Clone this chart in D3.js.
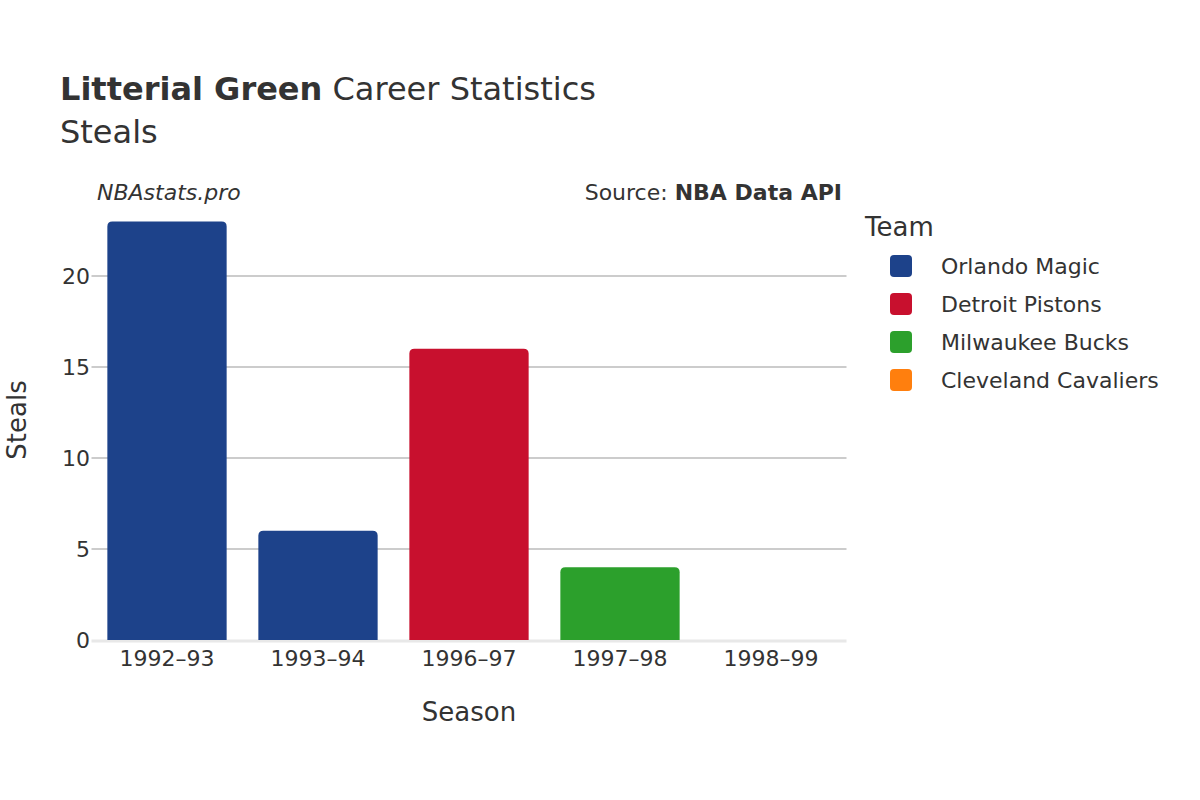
<!DOCTYPE html>
<html><head><meta charset="utf-8">
<script src="https://cdn.jsdelivr.net/npm/d3@7"></script>
<style>body{margin:0;background:#fff}text{font-family:"DejaVu Sans",sans-serif;fill:#333}</style>
</head><body><svg id="c" width="1200" height="800"></svg>
<script>
const seasons=["1992–93","1993–94","1996–97","1997–98","1998–99"];
const steals=[23,6,16,4,0];
const teams=["Orlando Magic","Orlando Magic","Detroit Pistons","Milwaukee Bucks","Cleveland Cavaliers"];
const legendTeams=["Orlando Magic","Detroit Pistons","Milwaukee Bucks","Cleveland Cavaliers"];
const teamColors=["#1d428a","#c8102e","#2ca02c","#ff7f0e"];
const yTicks=[0,5,10,15,20];

const svg=d3.select("#c");
const color=d3.scaleOrdinal(legendTeams,teamColors);
const x=d3.scaleBand(seasons,[91.5,846.5]).paddingInner(0.21).paddingOuter(0.105);
const y=d3.scaleLinear([0,23],[640,221.4]);

svg.append("g").selectAll("line").data(yTicks.filter(d=>d>0)).join("line")
 .attr("x1",91.5).attr("x2",846.5).attr("y1",d=>y(d)).attr("y2",d=>y(d))
 .attr("stroke","#999").attr("stroke-width",1);
svg.append("line").attr("x1",91.5).attr("x2",846.5).attr("y1",641).attr("y2",641)
 .attr("stroke","#e8e8e8").attr("stroke-width",3);

svg.append("g").selectAll("path").data(seasons).join("path")
 .attr("fill",(d,i)=>color(teams[i]))
 .attr("d",(d,i)=>{const x0=x(d),w=x.bandwidth(),y0=y(steals[i]),h=640-y0,r=Math.min(5,h);
   return `M${x0},640V${y0+r}Q${x0},${y0} ${x0+r},${y0}H${x0+w-r}Q${x0+w},${y0} ${x0+w},${y0+r}V640Z`;});

svg.append("g").selectAll("text").data(yTicks).join("text")
 .attr("x",90).attr("y",d=>y(d)+8).attr("text-anchor","end").attr("font-size",22).text(d=>d);
svg.append("g").selectAll("text").data(seasons).join("text")
 .attr("x",d=>x(d)+x.bandwidth()/2).attr("y",666).attr("text-anchor","middle").attr("font-size",22).text(d=>d);

svg.append("text").attr("x",469).attr("y",721).attr("text-anchor","middle").attr("font-size",26).text("Season");
svg.append("text").attr("transform","translate(26,420) rotate(-90)").attr("text-anchor","middle").attr("font-size",26).text("Steals");

const t=svg.append("text").attr("x",60).attr("y",100).attr("font-size",32);
t.append("tspan").attr("font-weight","bold").text("Litterial Green");
t.append("tspan").text(" Career Statistics");
svg.append("text").attr("x",60).attr("y",143).attr("font-size",32).text("Steals");
svg.append("text").attr("x",97).attr("y",200).attr("font-size",22).attr("font-style","italic").text("NBAstats.pro");
const s=svg.append("text").attr("x",842).attr("y",200).attr("font-size",22).attr("text-anchor","end");
s.append("tspan").text("Source: ");
s.append("tspan").attr("font-weight","bold").text("NBA Data API");

svg.append("text").attr("x",865).attr("y",236).attr("font-size",26).text("Team");
const lg=svg.append("g").selectAll("g").data(legendTeams).join("g")
 .attr("transform",(d,i)=>`translate(0,${266+i*38})`);
lg.append("rect").attr("x",890).attr("y",-11).attr("width",22).attr("height",22).attr("rx",4).attr("fill",d=>color(d));
lg.append("text").attr("x",941).attr("y",8).attr("font-size",22).text(d=>d);
</script></body></html>
